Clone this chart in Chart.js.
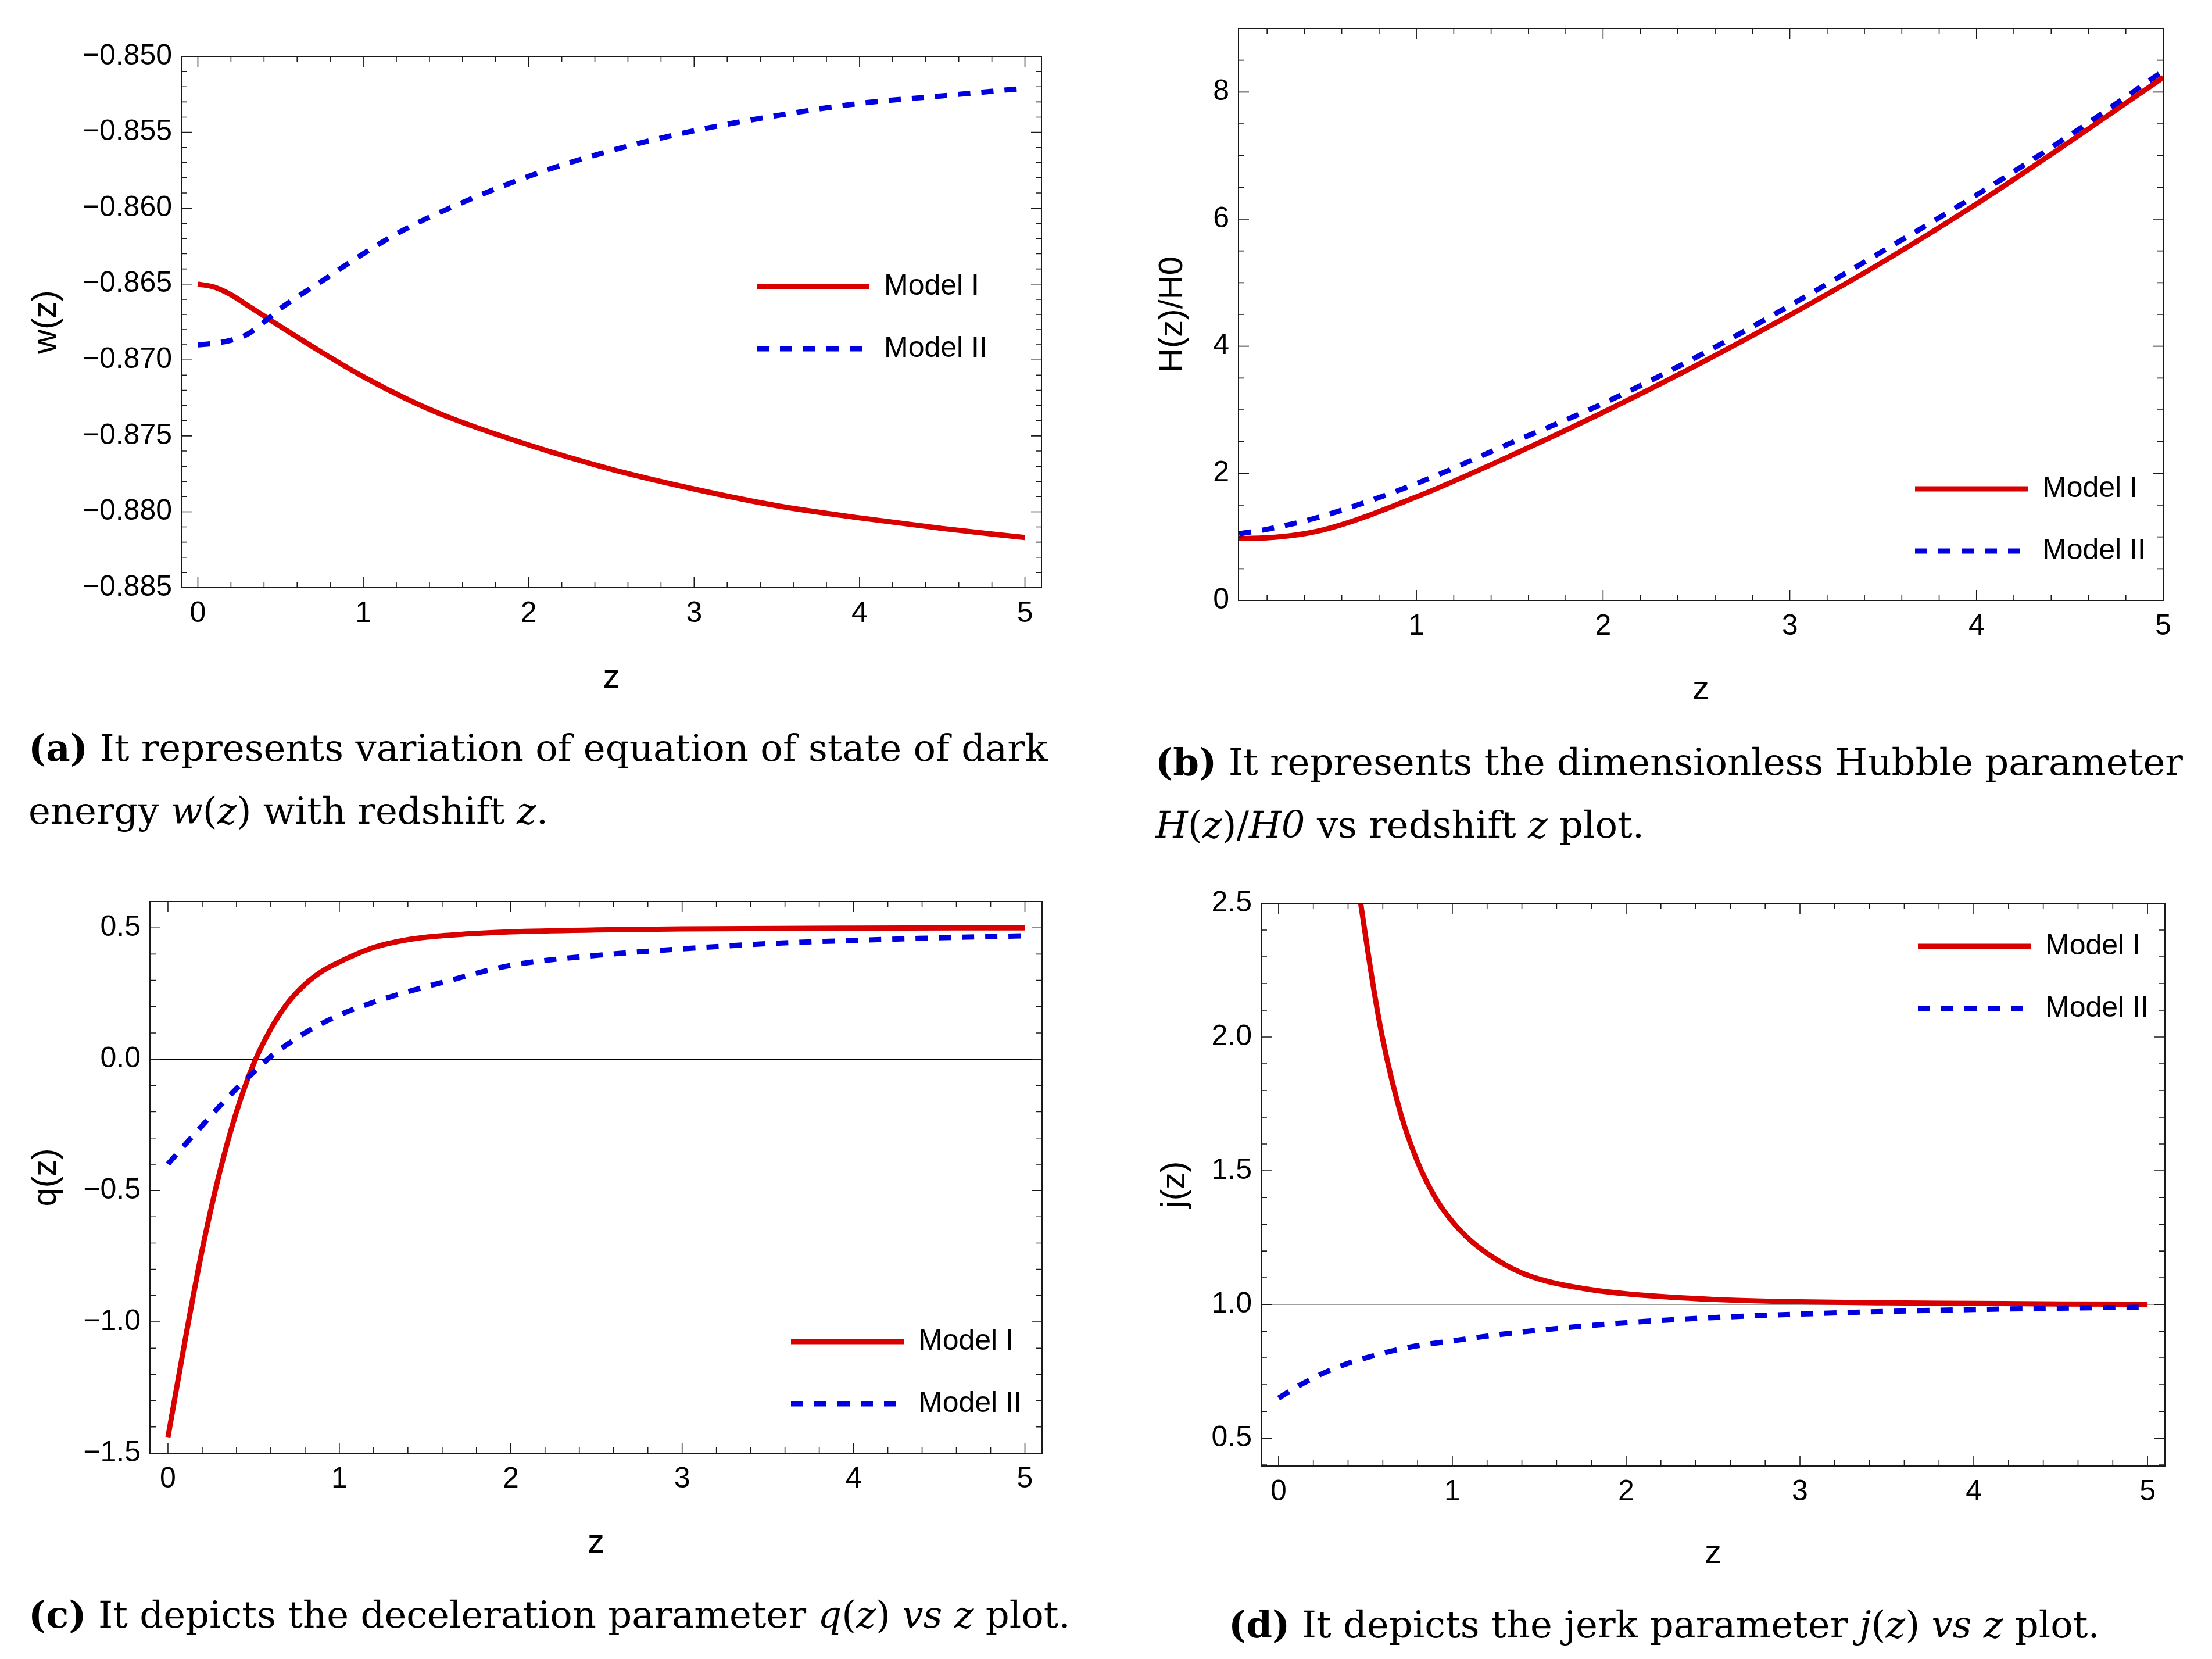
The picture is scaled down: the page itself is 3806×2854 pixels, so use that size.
<!DOCTYPE html>
<html>
<head>
<meta charset="utf-8">
<script src="https://cdn.jsdelivr.net/npm/chart.js@4.4.1/dist/chart.umd.min.js"></script>
<style>
  html, body { margin: 0; padding: 0; background: #fff; }
  body { width: 3806px; height: 2854px; position: relative; overflow: hidden; }
  canvas { position: absolute; }
  .cap { position: absolute; font-family: "DejaVu Serif", serif; font-size: 64px; line-height: 108px; color: #000; white-space: nowrap; }
</style>
</head>
<body>
<canvas id="chartW"></canvas>
<canvas id="chartH"></canvas>
<canvas id="chartQ"></canvas>
<canvas id="chartJ"></canvas>

<div class="cap" style="left:49px; top:1233px;"><b>(a)</b> It represents variation of equation of state of dark<br>energy <i>w</i>(<i>z</i>) with redshift <i>z</i>.</div>
<div class="cap" style="left:1988px; top:1257px;"><b>(b)</b> It represents the dimensionless Hubble parameter<br><i>H</i>(<i>z</i>)/<i>H0</i> vs redshift <i>z</i> plot.</div>
<div class="cap" style="left:49px; top:2724px;"><b>(c)</b> It depicts the deceleration parameter <i>q</i>(<i>z</i>) <i>vs z</i> plot.</div>
<div class="cap" style="left:2114px; top:2741px;"><b>(d)</b> It depicts the jerk parameter <i>j</i>(<i>z</i>) <i>vs z</i> plot.</div>

<script>
// (a) equation of state w(z)
const zW      = [0, 0.1, 0.2, 0.3, 0.4, 0.5, 0.75, 1, 1.25, 1.5, 2, 2.5, 3, 3.5, 4, 4.5, 5];
const wModelI  = [-0.8650, -0.8652, -0.8657, -0.8664, -0.8671, -0.8678, -0.8695, -0.8711, -0.8725, -0.8737, -0.8756, -0.8772, -0.8785, -0.8796, -0.8804, -0.8811, -0.8817];
const wModelII = [-0.8690, -0.8689, -0.8687, -0.8683, -0.8675, -0.8666, -0.8648, -0.8630, -0.8614, -0.8601, -0.8579, -0.8562, -0.8549, -0.8539, -0.8531, -0.8526, -0.8521];
const wTicks = [-0.885, -0.880, -0.875, -0.870, -0.865, -0.860, -0.855, -0.850];

// (b) H(z)/H0
const zH       = [0.05, 0.2, 0.5, 1, 1.5, 2, 2.5, 3, 3.5, 4, 4.5, 5];
const hModelI  = [0.975, 0.985, 1.11, 1.63, 2.27, 2.96, 3.70, 4.49, 5.33, 6.24, 7.22, 8.23];
const hModelII = [1.05, 1.12, 1.33, 1.84, 2.47, 3.10, 3.83, 4.64, 5.50, 6.38, 7.32, 8.33];
const hTicks = [0, 2, 4, 6, 8];

// (c) deceleration parameter q(z)
const zQ1      = [0, 0.1, 0.2, 0.3, 0.4, 0.5, 0.6, 0.7, 0.8, 0.9, 1.0, 1.2, 1.4, 1.6, 1.8, 2.0, 2.5, 3, 4, 5];
const qModelI  = [-1.439, -1.07, -0.725, -0.435, -0.20, -0.018, 0.115, 0.215, 0.285, 0.335, 0.37, 0.425, 0.455, 0.47, 0.479, 0.485, 0.492, 0.496, 0.499, 0.5];
const zQ2      = [0, 0.1, 0.2, 0.3, 0.4, 0.5, 0.6, 0.8, 1.0, 1.2, 1.4, 1.6, 2.0, 2.5, 3, 3.5, 4, 4.5, 5];
const qModelII = [-0.399, -0.325, -0.253, -0.18, -0.112, -0.05, 0.01, 0.10, 0.168, 0.217, 0.257, 0.292, 0.357, 0.395, 0.42, 0.44, 0.452, 0.462, 0.47];
const qTicks = [-1.5, -1.0, -0.5, 0.0, 0.5];
const qAxisLine = 0;

// (d) jerk parameter j(z)
const zJ1      = [0.4, 0.45, 0.5, 0.55, 0.6, 0.7, 0.8, 0.9, 1.0, 1.1, 1.2, 1.3, 1.4, 1.5, 1.6, 1.8, 2.0, 2.5, 3, 3.5, 4, 4.5, 5];
const jModelI  = [2.84, 2.60, 2.38, 2.17, 1.99, 1.72, 1.533, 1.402, 1.31, 1.242, 1.191, 1.150, 1.118, 1.095, 1.078, 1.055, 1.040, 1.019, 1.010, 1.006, 1.004, 1.002, 1.001];
const zJ2      = [0, 0.1, 0.2, 0.3, 0.4, 0.5, 0.75, 1.0, 1.25, 1.5, 2, 2.5, 3, 3.5, 4, 4.5, 5];
const jModelII = [0.65, 0.69, 0.725, 0.755, 0.78, 0.80, 0.84, 0.864, 0.886, 0.904, 0.932, 0.951, 0.964, 0.974, 0.981, 0.986, 0.99];
const jTicks = [0.5, 1.0, 1.5, 2.0, 2.5];
const jRefLine = 1;

const zTicks = [0, 1, 2, 3, 4, 5];
const zTicksH = [1, 2, 3, 4, 5];
const seriesNames = ['Model I', 'Model II'];

const RED = '#d90000';
const BLUE = '#0000e0';
const tickFont = { family: '"Liberation Sans", Arial, sans-serif', size: 50 };
const titleFont = { family: '"Liberation Sans", Arial, sans-serif', size: 58 };

const pts = (xs, ys) => xs.map((x, i) => ({ x: x, y: ys[i] }));
const fmt = d => v => (v < -1e-9 ? '\u2212' : '') + Math.abs(v).toFixed(d);

// frame with inward major / minor ticks on all four sides
const frameTicks = {
  id: 'frameTicks',
  afterDatasetsDraw(chart, args, o) {
    const { ctx, chartArea: a } = chart;
    const xs = chart.scales.x, ys = chart.scales.y;
    const steps = (s, minor) => {
      const out = [];
      for (let k = Math.ceil(s.min / minor - 1e-6); k * minor <= s.max + 1e-9; k++) out.push(k * minor);
      return out;
    };
    const isMajor = (v, m) => Math.abs(v / m - Math.round(v / m)) < 1e-6;
    ctx.save();
    ctx.strokeStyle = '#1a1a1a';
    ctx.lineWidth = 1.6;
    ctx.beginPath();
    steps(xs, o.xMinor).forEach(v => {
      const p = xs.getPixelForValue(v);
      const len = isMajor(v, o.xMajor) ? 18 : 10;
      ctx.moveTo(p, a.bottom); ctx.lineTo(p, a.bottom - len);
      ctx.moveTo(p, a.top); ctx.lineTo(p, a.top + len);
    });
    steps(ys, o.yMinor).forEach(v => {
      const p = ys.getPixelForValue(v);
      const len = isMajor(v, o.yMajor) ? 18 : 10;
      ctx.moveTo(a.left, p); ctx.lineTo(a.left + len, p);
      ctx.moveTo(a.right, p); ctx.lineTo(a.right - len, p);
    });
    ctx.stroke();
    ctx.lineWidth = 2;
    ctx.strokeRect(a.left, a.top, a.right - a.left, a.bottom - a.top);
    ctx.restore();
  }
};

// move the legend inside the plot, like the original inset legend
const placeLegend = {
  id: 'placeLegend',
  afterLayout(chart, args, o) {
    const lg = chart.legend;
    if (!lg) return;
    const pad = o.padding;
    lg.left = o.x - pad;
    lg.top = o.y - tickFont.size / 2 - pad;
    lg.right = chart.width;
    lg.bottom = chart.height;
    lg.width = lg.right - lg.left;
    lg.height = lg.bottom - lg.top;
  }
};

function makePanel(id, rect, box, p) {
  const cv = document.getElementById(id);
  const w = rect.r - rect.l, h = rect.b - rect.t;
  cv.width = w; cv.height = h;
  cv.style.left = rect.l + 'px'; cv.style.top = rect.t + 'px';
  cv.style.width = w + 'px'; cv.style.height = h + 'px';
  const W = box.l - rect.l, T = box.t - rect.t, R = rect.r - box.r, H = rect.b - box.b;
  const half = titleFont.size * 1.2 / 2;
  const legPad = 107 - tickFont.size;

  const datasets = [
    { label: seriesNames[0], data: p.red, borderColor: RED, backgroundColor: RED, borderWidth: 9,
      pointRadius: 0, cubicInterpolationMode: 'monotone', fill: false, clip: 0, order: 1 },
    { label: seriesNames[1], data: p.blue, borderColor: BLUE, backgroundColor: BLUE, borderWidth: 9,
      borderDash: [21, 19], pointRadius: 0, cubicInterpolationMode: 'monotone', fill: false, clip: 0, order: 0 }
  ];
  if (p.refLine !== undefined) {
    datasets.push({ label: '', data: [{ x: p.xMin, y: p.refLine }, { x: p.xMax, y: p.refLine }],
      borderColor: p.refColor, borderWidth: p.refWidth, pointRadius: 0, fill: false, order: 2 });
  }

  return new Chart(cv.getContext('2d'), {
    type: 'line',
    data: { datasets: datasets },
    options: {
      responsive: false,
      animation: false,
      devicePixelRatio: 1,
      layout: { padding: { left: 0, top: T, right: R, bottom: 0 } },
      scales: {
        x: {
          type: 'linear', position: 'bottom', min: p.xMin, max: p.xMax,
          grid: { display: false, drawTicks: false }, border: { display: false },
          afterBuildTicks: s => { s.ticks = p.xTicks.map(v => ({ value: v })); },
          afterFit: s => { s.height = H; },
          ticks: { font: tickFont, color: '#000', padding: 45 - tickFont.size * 0.6, maxRotation: 0, autoSkip: false, callback: fmt(0) },
          title: { display: true, text: 'z', font: titleFont, color: '#000',
                   padding: { top: 0, bottom: rect.b - p.xTitleY - half } }
        },
        y: {
          type: 'linear', position: 'left', min: p.yMin, max: p.yMax,
          grid: { display: false, drawTicks: false }, border: { display: false },
          afterBuildTicks: s => { s.ticks = p.yTicks.map(v => ({ value: v })); },
          afterFit: s => { s.width = W; },
          ticks: { font: tickFont, color: '#000', padding: 16, autoSkip: false, callback: fmt(p.yDec) },
          title: { display: true, text: p.yTitle, font: titleFont, color: '#000',
                   padding: { top: p.yTitleX - rect.l - half, bottom: 0 } }
        }
      },
      plugins: {
        tooltip: { enabled: false },
        legend: {
          display: true, position: 'chartArea', align: 'start',
          labels: {
            usePointStyle: true, pointStyle: 'line', pointStyleWidth: 194,
            font: tickFont, color: '#000', padding: legPad,
            generateLabels: chart => Chart.defaults.plugins.legend.labels.generateLabels(chart).map(it =>
              Object.assign(it, { lineDash: chart.data.datasets[it.datasetIndex].borderDash || [] })),
            filter: item => item.text !== '',
            sort: (a, b) => a.datasetIndex - b.datasetIndex
          }
        },
        frameTicks: p.ticks,
        placeLegend: { x: p.legX - rect.l, y: p.legY - rect.t, padding: legPad }
      }
    },
    plugins: [frameTicks, placeLegend]
  });
}

makePanel('chartW', { l: 0, t: 0, r: 1900, b: 1240 }, { l: 312, t: 97, r: 1792, b: 1011 }, {
  red: pts(zW, wModelI), blue: pts(zW, wModelII),
  xMin: -0.1, xMax: 5.1, yMin: -0.885, yMax: -0.850,
  xTicks: zTicks, yTicks: wTicks, yDec: 3, yTitle: 'w(z)',
  yTitleX: 80, xTitleY: 1167, legX: 1302, legY: 493,
  ticks: { xMinor: 0.2, xMajor: 1, yMinor: 0.001, yMajor: 0.005 }
});

makePanel('chartH', { l: 1905, t: 0, r: 3806, b: 1260 }, { l: 2131, t: 49, r: 3722, b: 1033 }, {
  red: pts(zH, hModelI), blue: pts(zH, hModelII),
  xMin: 0.047, xMax: 5, yMin: 0, yMax: 9,
  xTicks: zTicksH, yTicks: hTicks, yDec: 0, yTitle: 'H(z)/H0',
  yTitleX: 2018, xTitleY: 1187, legX: 3295, legY: 841,
  ticks: { xMinor: 0.2, xMajor: 1, yMinor: 0.5, yMajor: 2 }
});

makePanel('chartQ', { l: 0, t: 1460, r: 1900, b: 2720 }, { l: 258, t: 1551, r: 1793, b: 2500 }, {
  red: pts(zQ1, qModelI), blue: pts(zQ2, qModelII),
  refLine: qAxisLine, refColor: '#000', refWidth: 2.5,
  xMin: -0.105, xMax: 5.1, yMin: -1.5, yMax: 0.6,
  xTicks: zTicks, yTicks: qTicks, yDec: 1, yTitle: 'q(z)',
  yTitleX: 80, xTitleY: 2655, legX: 1361, legY: 2308,
  ticks: { xMinor: 0.2, xMajor: 1, yMinor: 0.1, yMajor: 0.5 }
});

makePanel('chartJ', { l: 1905, t: 1460, r: 3806, b: 2740 }, { l: 2170, t: 1554, r: 3725, b: 2522 }, {
  red: pts(zJ1, jModelI), blue: pts(zJ2, jModelII),
  refLine: jRefLine, refColor: '#808080', refWidth: 1.5,
  xMin: -0.1, xMax: 5.1, yMin: 0.396, yMax: 2.5,
  xTicks: zTicks, yTicks: jTicks, yDec: 1, yTitle: 'j(z)',
  yTitleX: 2022, xTitleY: 2673, legX: 3300, legY: 1628,
  ticks: { xMinor: 0.2, xMajor: 1, yMinor: 0.1, yMajor: 0.5 }
});
</script>
</body>
</html>
